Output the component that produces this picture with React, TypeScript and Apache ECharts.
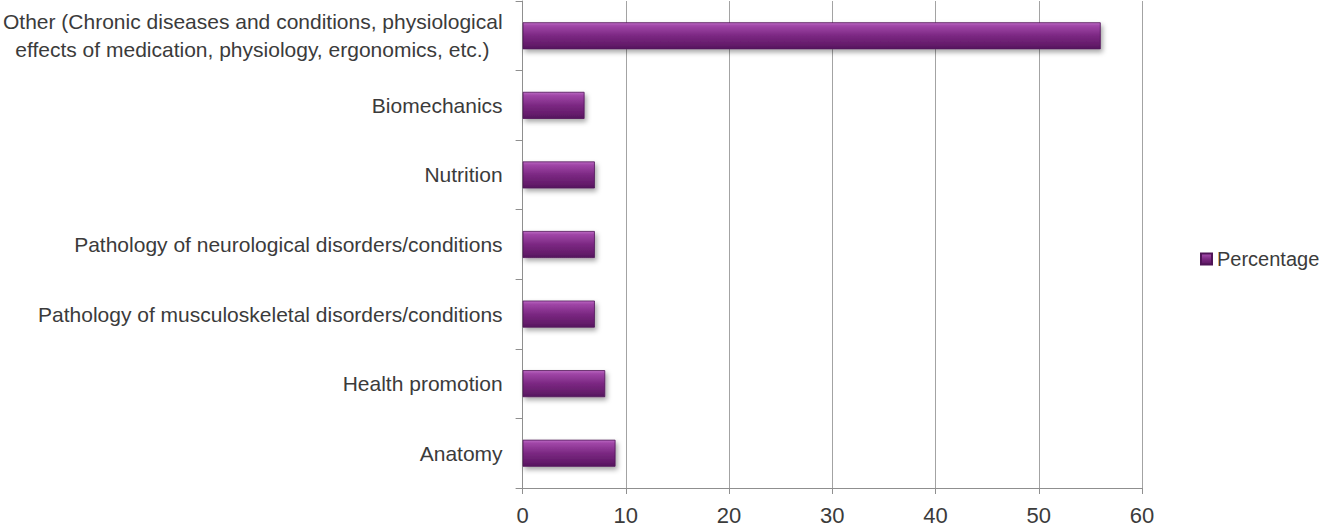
import React, { useEffect, useRef } from "react";
import * as echarts from "echarts";

const categories = [
  "Anatomy",
  "Health promotion",
  "Pathology of musculoskeletal disorders/conditions",
  "Pathology of neurological disorders/conditions",
  "Nutrition",
  "Biomechanics",
  "Other (Chronic diseases and conditions, physiological\neffects of medication, physiology, ergonomics, etc.)",
];
const percentage = [9, 8, 7, 7, 7, 6, 56];
const seriesName = "Percentage";
const xMin = 0;
const xMax = 60;
const xInterval = 10;

const FONT = "'Liberation Sans', Arial, sans-serif";
const TEXT = "#3b3b3b";

export default function App() {
  const ref = useRef<HTMLDivElement>(null);
  useEffect(() => {
    document.body.style.margin = "0";
    const chart = echarts.init(ref.current!, null, { renderer: "svg" });
    const barColor = new echarts.graphic.LinearGradient(0, 0, 0, 1, [
      { offset: 0, color: "#bb6ac3" },
      { offset: 0.12, color: "#a046a7" },
      { offset: 0.5, color: "#7b2882" },
      { offset: 0.85, color: "#641b6a" },
      { offset: 1, color: "#54155e" },
    ]);
    chart.setOption({
      animation: false,
      textStyle: { fontFamily: FONT },
      grid: { left: 522, right: 178, top: 1, bottom: 41, containLabel: false },
      legend: {
        data: [seriesName],
        orient: "vertical",
        left: 1195,
        top: 244,
        itemWidth: 11,
        itemHeight: 11,
        itemGap: 4,
        icon: "rect",
        textStyle: { fontSize: 20, color: TEXT, fontFamily: FONT },
      },
      xAxis: {
        type: "value",
        min: xMin,
        max: xMax,
        interval: xInterval,
        axisLine: { show: true, lineStyle: { color: "#8f8f8f", width: 1 } },
        axisTick: { show: true, length: 6, lineStyle: { color: "#8f8f8f" } },
        splitLine: { show: true, lineStyle: { color: "#a3a3a3", width: 1 } },
        axisLabel: { fontSize: 22, color: TEXT, margin: 16, fontFamily: FONT },
      },
      yAxis: {
        type: "category",
        data: categories,
        axisLine: { show: true, lineStyle: { color: "#8f8f8f", width: 1 } },
        axisTick: { show: true, length: 7, lineStyle: { color: "#8f8f8f" } },
        splitLine: { show: false },
        axisLabel: {
          fontSize: 21,
          color: TEXT,
          margin: 20,
          fontFamily: FONT,
          lineHeight: 28,
          formatter: (v: string) => {
            const parts = v.split("\n");
            if (parts.length === 1) return v;
            return "{a|" + parts[0] + "}\n{b|" + parts[1] + "}";
          },
          rich: {
            a: { fontSize: 21, color: TEXT, fontFamily: FONT, lineHeight: 28 },
            b: { fontSize: 21, color: TEXT, fontFamily: FONT, lineHeight: 28, padding: [0, 13, 0, 0] },
          },
        },
      },
      series: [
        {
          name: seriesName,
          type: "bar",
          data: percentage,
          barWidth: 27,
          itemStyle: {
            color: barColor,
            borderColor: "#4f1457",
            borderWidth: 0.8,
            shadowColor: "rgba(0,0,0,0.35)",
            shadowBlur: 5,
            shadowOffsetX: 2,
            shadowOffsetY: 3,
          },
        },
      ],
    });
    return () => chart.dispose();
  }, []);
  return (
    <div
      ref={ref}
      style={{ position: "absolute", left: 0, top: 0, width: 1320, height: 529 }}
    />
  );
}
